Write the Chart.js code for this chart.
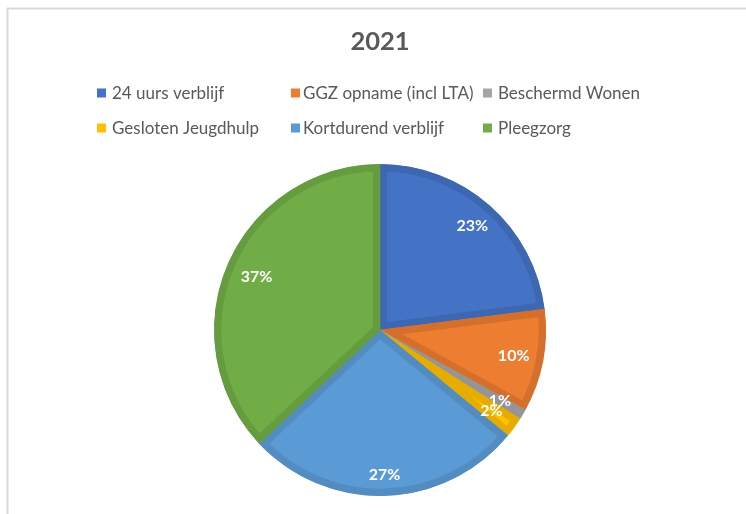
<!DOCTYPE html>
<html><head><meta charset="utf-8">
<script src="https://cdn.jsdelivr.net/npm/chart.js@4/dist/chart.umd.min.js"></script>
<style>html,body{margin:0;padding:0;background:#fff}#wrap{position:relative;width:746px;height:514px}</style>
</head><body><div id="wrap"><canvas id="c" width="746" height="514"></canvas></div>
<script>
const chartTitle = '2021';
const categories = ['24 uurs verblijf', 'GGZ opname (incl LTA)', 'Beschermd Wonen', 'Gesloten Jeugdhulp', 'Kortdurend verblijf', 'Pleegzorg'];
const values = [23, 10, 1, 2, 27, 37];
const fillColors = ['#4472C4', '#ED7D31', '#A5A5A5', '#FFC000', '#5B9BD5', '#70AD47'];
const borderColors = ['#3D67B0', '#D5702C', '#959595', '#E6AD00', '#528CC0', '#659C40'];

const FONT = 'Lato';
const LEGEND_FS = 17;

const legendPlugin = {
  id: 'gridLegend',
  afterDraw(chart) {
    const ctx = chart.ctx;
    const sqX = [97, 291, 483];
    const txX = [112, 303, 498];
    const rowY = [93, 128];
    ctx.save();
    ctx.font = LEGEND_FS + 'px "' + FONT + '"';
    ctx.textBaseline = 'middle';
    ctx.textAlign = 'left';
    chart.data.labels.forEach((lab, i) => {
      const c = i % 3, r = Math.floor(i / 3);
      ctx.fillStyle = chart.data.datasets[0].backgroundColor[i];
      ctx.fillRect(sqX[c], rowY[r] - 4.5, 9, 9);
      ctx.fillStyle = '#595959';
      ctx.fillText(lab, txX[c], rowY[r] + 1);
    });
    ctx.restore();
  }
};

const framePlugin = {
  id: 'frame',
  beforeDraw(chart) {
    const ctx = chart.ctx;
    ctx.save();
    ctx.fillStyle = '#fff';
    ctx.fillRect(0, 0, chart.width, chart.height);
    ctx.strokeStyle = '#D9D9D9';
    ctx.lineWidth = 2;
    ctx.beginPath();
    ctx.moveTo(7.5, chart.height);
    ctx.lineTo(7.5, 8.5);
    ctx.lineTo(chart.width, 8.5);
    ctx.stroke();
    ctx.restore();
  }
};

const labelRadius = [0.84, 0.82, 0.84, 0.83, 0.875, 0.81];
const pctPlugin = {
  id: 'pctLabels',
  afterDatasetsDraw(chart) {
    const ctx = chart.ctx;
    const meta = chart.getDatasetMeta(0);
    const data = chart.data.datasets[0].data;
    const total = data.reduce((a, b) => a + b, 0);
    ctx.save();
    ctx.font = 'bold 16px "' + FONT + '"';
    ctx.fillStyle = '#FFFFFF';
    ctx.textAlign = 'center';
    ctx.textBaseline = 'middle';
    meta.data.forEach((arc, i) => {
      const p = arc.getProps(['x', 'y', 'startAngle', 'endAngle', 'outerRadius'], true);
      const mid = (p.startAngle + p.endAngle) / 2;
      const r = p.outerRadius * labelRadius[i];
      const txt = Math.round(data[i] / total * 100) + '%';
      ctx.fillText(txt, p.x + Math.cos(mid) * r, p.y + Math.sin(mid) * r);
    });
    ctx.restore();
  }
};

const TITLE_FS = 25.5;
new Chart(document.getElementById('c'), {
  type: 'pie',
  data: {
    labels: categories,
    datasets: [{
      data: values,
      backgroundColor: fillColors,
      borderColor: borderColors,
      borderWidth: 7,
      borderAlign: 'inner'
    }]
  },
  options: {
    responsive: false,
    animation: false,
    layout: { padding: { top: 0, bottom: 18, left: 14, right: 0 } },
    plugins: {
      legend: { display: false },
      tooltip: { enabled: false },
      title: {
        display: true,
        text: chartTitle,
        color: '#595959',
        font: { family: FONT, size: TITLE_FS, weight: 'bold', lineHeight: 1.2 },
        padding: { top: 42 - TITLE_FS * 0.6, bottom: 164 - 42 - TITLE_FS * 0.6 }
      }
    }
  },
  plugins: [framePlugin, pctPlugin, legendPlugin]
});
</script>
</body></html>
